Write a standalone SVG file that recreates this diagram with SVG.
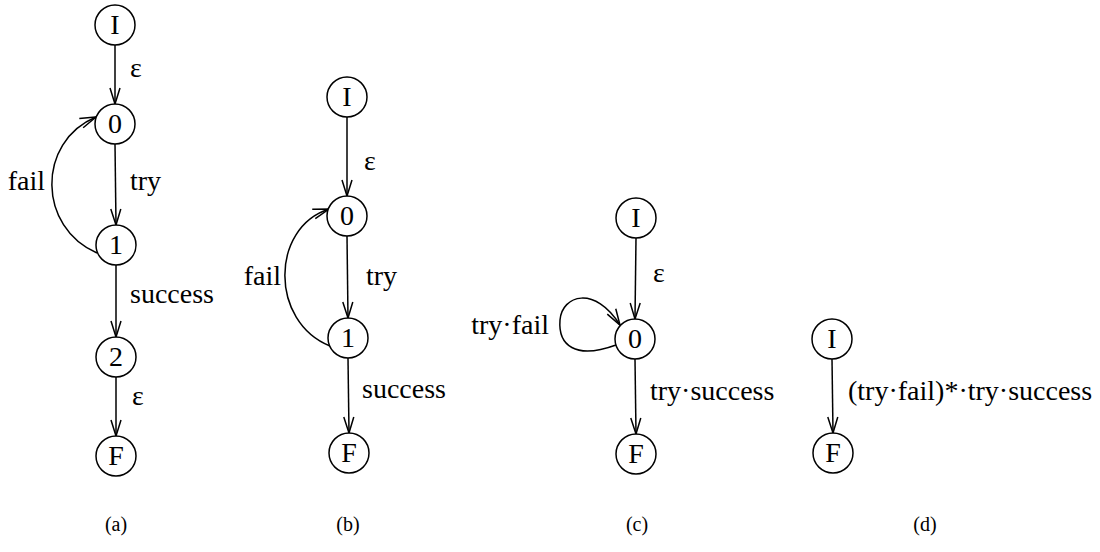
<svg xmlns="http://www.w3.org/2000/svg" width="1100" height="552" viewBox="0 0 1100 552" font-family="'Liberation Serif', 'DejaVu Serif', serif">
<style>
.n circle{fill:#fff;stroke:#000;stroke-width:1.5}
.n text{font-family:'Liberation Serif','DejaVu Serif',serif;font-size:28px;text-anchor:middle;fill:#000}
.e{fill:none;stroke:#000;stroke-width:1.5}
.l{font-family:'Liberation Serif','DejaVu Serif',serif;font-size:28px;fill:#000}
.cap{font-family:'Liberation Serif','DejaVu Serif',serif;font-size:20px;text-anchor:middle;fill:#000}
</style>
<defs>
<marker id="ah" markerUnits="userSpaceOnUse" markerWidth="20" markerHeight="14" viewBox="-18 -7 20 14" refX="0" refY="0" orient="auto">
<path d="M-16,-5 L0,0 L-16,5" fill="none" stroke="#000" stroke-width="1.5"/>
</marker>
</defs>
<g id="connectors">
<line class="e" x1="115" y1="45" x2="115" y2="104" marker-end="url(#ah)"/>
<line class="e" x1="115" y1="144" x2="116" y2="225" marker-end="url(#ah)"/>
<path class="e" d="M97,253 C38,228 36,142 96,117" marker-end="url(#ah)"/>
<line class="e" x1="116" y1="265" x2="116" y2="337" marker-end="url(#ah)"/>
<line class="e" x1="116" y1="377" x2="116" y2="436" marker-end="url(#ah)"/>
<line class="e" x1="347" y1="117" x2="347" y2="196" marker-end="url(#ah)"/>
<line class="e" x1="347" y1="236" x2="348" y2="318" marker-end="url(#ah)"/>
<path class="e" d="M330,346 C270,322 270,228 329,209" marker-end="url(#ah)"/>
<line class="e" x1="348" y1="358" x2="349" y2="433" marker-end="url(#ah)"/>
<line class="e" x1="636" y1="238" x2="635" y2="319" marker-end="url(#ah)"/>
<path class="e" d="M616,345 C575,360 558,345 560,320 C562,295 595,285 620,325" marker-end="url(#ah)"/>
<line class="e" x1="635" y1="359" x2="636" y2="434" marker-end="url(#ah)"/>
<line class="e" x1="832" y1="359" x2="833" y2="433" marker-end="url(#ah)"/>
</g>
<g id="labels">
<text class="l" x="130" y="77">ε</text>
<text class="l" x="130" y="190">try</text>
<text class="l" x="45" y="190" text-anchor="end">fail</text>
<text class="l" x="130" y="303">success</text>
<text class="l" x="132" y="405">ε</text>
<text class="l" x="364" y="170">ε</text>
<text class="l" x="366" y="285">try</text>
<text class="l" x="281" y="285" text-anchor="end">fail</text>
<text class="l" x="362" y="398">success</text>
<text class="l" x="653" y="282">ε</text>
<text class="l" x="549" y="334" text-anchor="end">try·fail</text>
<text class="l" x="650" y="400">try·success</text>
<text class="l" x="848" y="400">(try·fail)*·try·success</text>
</g>
<g id="a-I" class="n"><circle cx="115" cy="25" r="20"/><text x="115" y="34">I</text></g>
<g id="a-0" class="n"><circle cx="115" cy="124" r="20"/><text x="115" y="133">0</text></g>
<g id="a-1" class="n"><circle cx="116" cy="245" r="20"/><text x="116" y="254">1</text></g>
<g id="a-2" class="n"><circle cx="116" cy="357" r="20"/><text x="116" y="366">2</text></g>
<g id="a-F" class="n"><circle cx="116" cy="456" r="20"/><text x="116" y="465">F</text></g>
<g id="b-I" class="n"><circle cx="347" cy="97" r="20"/><text x="347" y="106">I</text></g>
<g id="b-0" class="n"><circle cx="347" cy="216" r="20"/><text x="347" y="225">0</text></g>
<g id="b-1" class="n"><circle cx="348" cy="338" r="20"/><text x="348" y="347">1</text></g>
<g id="b-F" class="n"><circle cx="349" cy="453" r="20"/><text x="349" y="462">F</text></g>
<g id="c-I" class="n"><circle cx="636" cy="218" r="20"/><text x="636" y="227">I</text></g>
<g id="c-0" class="n"><circle cx="635" cy="339" r="20"/><text x="635" y="348">0</text></g>
<g id="c-F" class="n"><circle cx="636" cy="454" r="20"/><text x="636" y="463">F</text></g>
<g id="d-I" class="n"><circle cx="832" cy="339" r="20"/><text x="832" y="348">I</text></g>
<g id="d-F" class="n"><circle cx="833" cy="453" r="20"/><text x="833" y="462">F</text></g>
<g id="captions">
<text class="cap" x="116" y="531">(a)</text>
<text class="cap" x="348" y="531">(b)</text>
<text class="cap" x="637" y="531">(c)</text>
<text class="cap" x="925" y="531">(d)</text>
</g>
</svg>
